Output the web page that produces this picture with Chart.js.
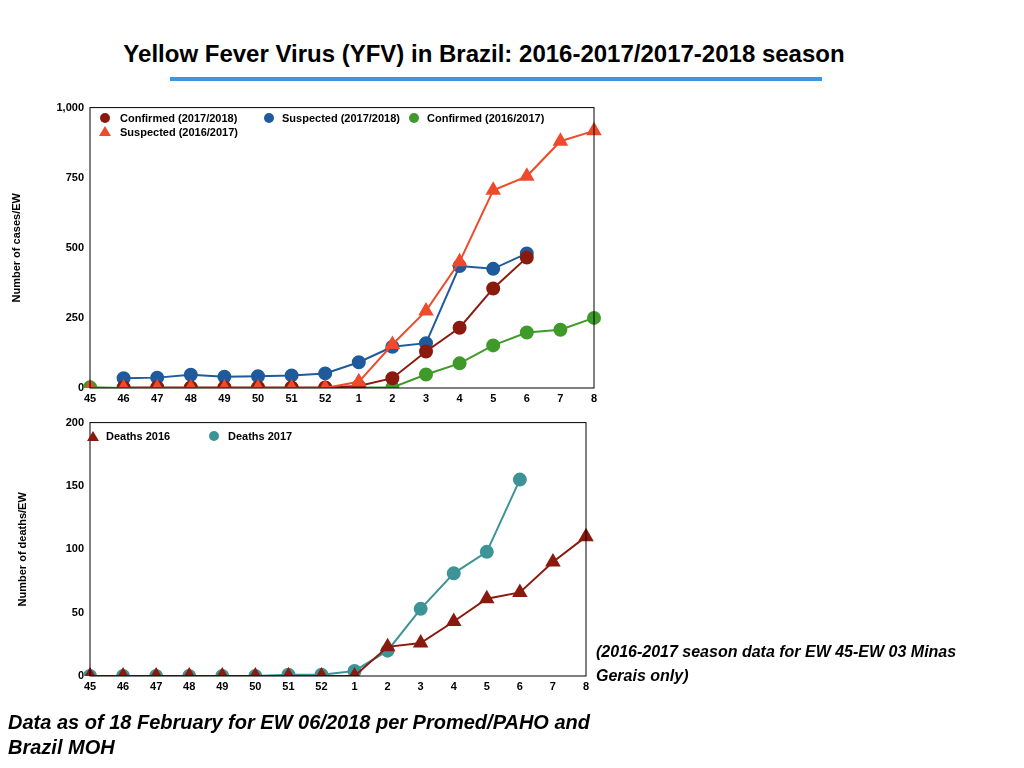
<!DOCTYPE html>
<html>
<head>
<meta charset="utf-8">
<script src="https://cdn.jsdelivr.net/npm/chart.js@4"></script>
<style>
  body { margin: 0; width: 1024px; height: 768px; background: #fff; position: relative; font-family: "Liberation Sans", Arial, sans-serif; overflow: hidden; }
  .box { position: absolute; }
  #title { position: absolute; left: 0; width: 968px; top: 40px; text-align: center; font-weight: bold; font-size: 24px; }
  #rule { position: absolute; left: 170px; width: 652px; top: 77px; height: 4px; background: #3d95e6; }
  .note { position: absolute; font-style: italic; font-weight: bold; }
  .leg { position: absolute; font-size: 11px; font-weight: bold; line-height: 14px; white-space: nowrap; }
  .dot { position: absolute; width: 10px; height: 10px; border-radius: 50%; }
  .tri { position: absolute; width: 0; height: 0; border-left: 6px solid transparent; border-right: 6px solid transparent; border-bottom: 10px solid; }
</style>
</head>
<body>
<div id="title">Yellow Fever Virus (YFV) in Brazil: 2016-2017/2017-2018 season</div>
<div id="rule"></div>
<div class="box" style="left:0;top:95px;width:610px;height:320px"><canvas id="graficoCasos"></canvas></div>
<div class="box" style="left:0;top:410px;width:600px;height:290px"><canvas id="graficoMortes"></canvas></div>

<span class="dot" style="left:100px;top:113px;background:#8b1a0e"></span><span class="leg" style="left:120px;top:111px">Confirmed (2017/2018)</span>
<span class="dot" style="left:264px;top:113px;background:#1f5b9c"></span><span class="leg" style="left:282px;top:111px">Suspected (2017/2018)</span>
<span class="dot" style="left:409px;top:113px;background:#3f9a2a"></span><span class="leg" style="left:427px;top:111px">Confirmed (2016/2017)</span>
<span class="tri" style="left:99px;top:126px;border-bottom-color:#ee4a2c"></span><span class="leg" style="left:120px;top:125px">Suspected (2016/2017)</span>

<span class="tri" style="left:87px;top:431px;border-bottom-color:#8b1a0e"></span><span class="leg" style="left:106px;top:429px">Deaths 2016</span>
<span class="dot" style="left:209px;top:431px;background:#3d9496"></span><span class="leg" style="left:228px;top:429px">Deaths 2017</span>

<div class="note" style="left:596px;top:640px;font-size:16px;line-height:24px;width:400px">(2016-2017 season data for EW 45-EW 03 Minas Gerais only)</div>
<div class="note" style="left:8px;top:710px;font-size:20px;line-height:25px;width:600px">Data as of 18 February for EW 06/2018 per Promed/PAHO and Brazil MOH</div>
<script>
const semanas = ['45','46','47','48','49','50','51','52','1','2','3','4','5','6','7','8'];
const confirmados1718 = [null,2,2,2,2,2,2,2,7,35,130,215,355,465,null,null];
const suspeitos1718 = [null,35,37,47,40,42,45,52,92,147,160,435,425,480,null,null];
const confirmados1617 = [3,0,0,0,0,0,0,0,2,2,48,88,152,198,208,250];
const suspeitos1617 = [0,0,0,0,0,0,0,0,22,155,275,450,705,755,880,917];
const mortes2016 = [0,0,0,0,0,0,0,0,0,23,26,43,61,66,90,110];
const mortes2017 = [0,0,0,0,0,0,1,1,4,20,53,81,98,155,null,null];

Chart.defaults.font.family = '"Liberation Sans", Arial, sans-serif';
Chart.defaults.font.weight = 'bold';
Chart.defaults.font.size = 11;
Chart.defaults.color = '#000';

// moldura da área do gráfico
const moldura = {
    id: 'moldura',
    afterDraw(chart) {
        const a = chart.chartArea, ctx = chart.ctx;
        ctx.save();
        ctx.strokeStyle = '#000';
        ctx.lineWidth = 1;
        ctx.strokeRect(a.left, a.top, a.right - a.left, a.bottom - a.top);
        ctx.restore();
    }
};

function serie(label, data, cor, estilo, raio, ordem) {
    return {
        label: label, data: data, borderColor: cor, backgroundColor: cor,
        pointStyle: estilo, pointRadius: raio, pointHoverRadius: raio,
        borderWidth: 2, tension: 0, spanGaps: false, order: ordem
    };
}

function opcoes(maxY, passo, tituloY, yLarg, xAlt, pad) {
    return {
        responsive: true, maintainAspectRatio: false, animation: false,
        layout: { padding: pad },
        plugins: {
            legend: { display: false }, // legenda feita em HTML
            tooltip: { enabled: false }
        },
        scales: {
            x: {
                offset: false,
                grid: { display: false, drawTicks: false },
                border: { display: false },
                ticks: { padding: 4, maxRotation: 0, autoSkip: false },
                afterFit(s) { s.height = xAlt; }
            },
            y: {
                min: 0, max: maxY,
                grid: { display: false, drawTicks: false },
                border: { display: false },
                ticks: { stepSize: passo, padding: 6 },
                title: { display: true, text: tituloY, padding: { top: 0, bottom: 10 }, font: { size: 11, weight: 'bold' } },
                afterFit(s) { s.width = yLarg; }
            }
        }
    };
}

new Chart(document.getElementById('graficoCasos'), {
    type: 'line',
    data: {
        labels: semanas,
        datasets: [
            serie('Confirmed (2017/2018)', confirmados1718, '#8b1a0e', 'circle', 6, 1),
            serie('Suspected (2017/2018)', suspeitos1718, '#1f5b9c', 'circle', 6, 2),
            serie('Confirmed (2016/2017)', confirmados1617, '#3f9a2a', 'circle', 6, 3),
            serie('Suspected (2016/2017)', suspeitos1617, '#ee4a2c', 'triangle', 7, 0)
        ]
    },
    options: opcoes(1000, 250, 'Number of cases/EW', 80, 27, { top: 8, right: 16, left: 10 }),
    plugins: [moldura]
});

new Chart(document.getElementById('graficoMortes'), {
    type: 'line',
    data: {
        labels: semanas,
        datasets: [
            serie('Deaths 2016', mortes2016, '#8b1a0e', 'triangle', 7, 0),
            serie('Deaths 2017', mortes2017, '#3d9496', 'circle', 6, 1)
        ]
    },
    options: opcoes(200, 50, 'Number of deaths/EW', 74, 24, { top: 9, right: 14, left: 16 }),
    plugins: [moldura]
});
</script>
</body>
</html>
